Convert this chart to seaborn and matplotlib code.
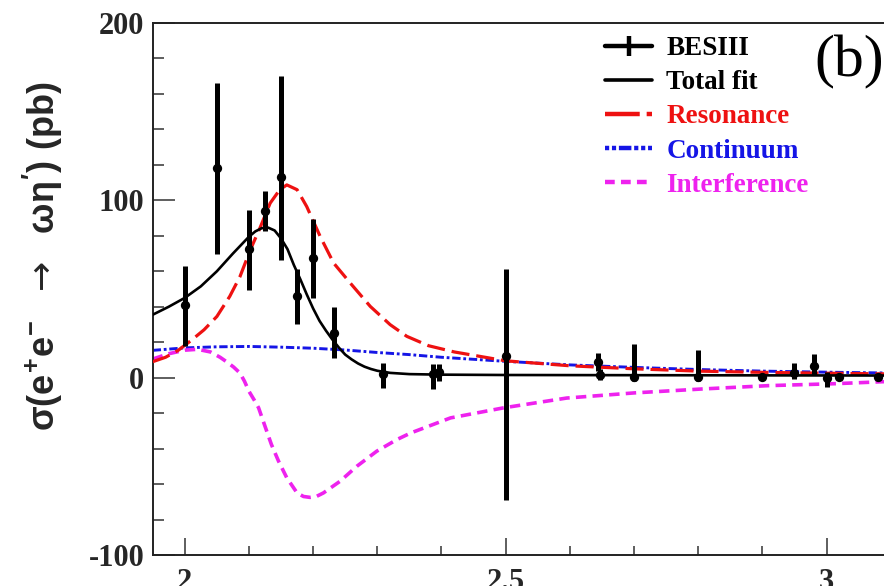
import numpy as np
import pandas as pd
import seaborn as sns
import matplotlib
matplotlib.use("Agg")
import matplotlib.pyplot as plt
from matplotlib.lines import Line2D
from matplotlib.ticker import MultipleLocator, FixedLocator

# ---------------- data ----------------
energy = [2.0000, 2.0500, 2.1000, 2.1250, 2.1500, 2.1750, 2.2000, 2.2324,
          2.3094, 2.3864, 2.3960, 2.5000, 2.6444, 2.6464, 2.7000, 2.8000,
          2.9000, 2.9500, 2.9810, 3.0000, 3.0200, 3.0800]
xsec = [41.0, 118.0, 72.5, 94.0, 113.0, 46.0, 67.5, 25.0,
        2.0, 2.0, 3.0, 12.0, 9.0, 1.7, 0.3, 0.3,
        0.5, 2.6, 6.6, 0.0, 0.4, 0.2]
err_up = [22.0, 48.0, 22.0, 11.5, 57.0, 15.0, 22.0, 15.0,
          6.0, 5.5, 4.5, 49.0, 5.0, 3.0, 18.5, 15.5,
          1.5, 5.5, 6.5, 3.0, 1.5, 1.5]
err_dn = [23.0, 48.0, 23.0, 11.5, 46.5, 15.5, 22.5, 14.0,
          8.0, 8.5, 5.0, 81.0, 5.0, 3.0, 2.0, 2.0,
          1.5, 3.5, 5.0, 5.0, 1.5, 1.5]

fit_e = [1.95, 1.975, 2.0, 2.025, 2.05, 2.075, 2.1, 2.11, 2.12, 2.13, 2.14,
         2.15, 2.16, 2.17, 2.18, 2.19, 2.20, 2.21, 2.22, 2.23, 2.24, 2.25,
         2.26, 2.27, 2.28, 2.29, 2.30, 2.32, 2.35, 2.40, 2.50, 2.70, 2.90, 3.10]
fit_total = [35.5, 40.0, 45.0, 51.5, 60.0, 70.0, 79.5, 82.5, 84.3, 84.6, 83.0,
             78.5, 72.5, 63.5, 55.5, 47.0, 39.0, 32.0, 26.5, 21.5, 17.0, 13.0,
             10.3, 8.0, 6.2, 4.9, 3.9, 2.7, 2.0, 1.7, 1.5, 1.4, 1.3, 1.2]

res_e = [1.95, 1.97, 1.99, 2.01, 2.03, 2.05, 2.07, 2.086, 2.102, 2.117, 2.133,
         2.148, 2.159, 2.175, 2.19, 2.211, 2.232, 2.258, 2.289, 2.32, 2.346,
         2.38, 2.42, 2.46, 2.50, 2.60, 2.70, 2.80, 2.90, 3.00, 3.10]
res_val = [9.0, 11.5, 15.5, 21.0, 27.0, 34.5, 45.8, 57.0, 72.0, 84.3, 98.4,
           106.0, 108.7, 106.0, 96.5, 79.6, 64.6, 53.3, 40.2, 29.9, 23.3,
           18.0, 14.5, 12.0, 9.5, 6.7, 5.0, 3.7, 3.0, 2.5, 2.1]

cont_e = [1.95, 2.0, 2.05, 2.1, 2.15, 2.2, 2.25, 2.3, 2.35, 2.4, 2.5, 2.6,
          2.7, 2.8, 2.9, 3.0, 3.1]
cont_val = [15.4, 16.8, 17.4, 17.6, 17.2, 16.6, 15.6, 14.2, 13.0, 11.5, 9.2,
            7.2, 5.8, 4.6, 3.7, 3.1, 2.6]

intf_e = [1.95, 1.975, 2.0, 2.02, 2.04, 2.055, 2.065, 2.076, 2.086, 2.093,
          2.1, 2.108, 2.115, 2.125, 2.135, 2.146, 2.159, 2.175, 2.185, 2.195,
          2.205, 2.216, 2.242, 2.268, 2.299, 2.33, 2.352, 2.414, 2.497, 2.595,
          2.7, 2.805, 2.909, 3.013, 3.1]
intf_val = [10.5, 13.5, 15.5, 16.0, 14.5, 11.5, 9.0, 6.0, 2.6, -2.0,
            -7.7, -12.5, -17.0, -27.4, -37.7, -47.0, -56.5, -65.0, -67.0, -67.5,
            -67.0, -65.0, -58.4, -50.0, -41.5, -35.0, -31.2, -22.7, -17.0, -11.5,
            -8.6, -6.4, -4.5, -3.4, -2.1]

legend_labels = ["BESIII", "Total fit", "Resonance", "Continuum", "Interference"]
x_ticks = [2.0, 2.5, 3.0]
x_tick_labels = ["2", "2.5", "3"]
y_ticks = [-100, 0, 100, 200]
y_tick_labels = ["-100", "0", "100", "200"]

# ---------------- style ----------------
sns.set_style("ticks")
plt.rcParams.update({
    "lines.scale_dashes": False,
    "mathtext.fontset": "custom",
    "mathtext.rm": "Liberation Sans:bold",
    "mathtext.it": "Liberation Sans:bold",
    "mathtext.bf": "Liberation Sans:bold",
    "mathtext.sf": "DejaVu Sans",
    "axes.linewidth": 1.4,
})

RED = "#ee1111"
BLUE = "#1515e6"
MAGENTA = "#ee22ee"

W, H = 884, 586
fig = plt.figure(figsize=(W / 100, H / 100), dpi=100)
ax_left, ax_right, ax_top, ax_bottom = 152.7, 890.7, 23.0, 555.0
ax = fig.add_axes([ax_left / W, 1 - ax_bottom / H,
                   (ax_right - ax_left) / W, (ax_bottom - ax_top) / H])

# ---------------- curves ----------------
sns.lineplot(x=fit_e, y=fit_total, ax=ax, color="black", lw=1.9, zorder=4)
sns.lineplot(x=res_e, y=res_val, ax=ax, color=RED, lw=2.3,
             linestyle=(0, (13, 5)), zorder=3)
sns.lineplot(x=cont_e, y=cont_val, ax=ax, color=BLUE, lw=2.1,
             linestyle=(0, (6, 2, 2, 2)), zorder=2)
sns.lineplot(x=intf_e, y=intf_val, ax=ax, color=MAGENTA, lw=2.6,
             linestyle=(0, (7.5, 4.5)), zorder=2)

# ---------------- data points ----------------
ax.errorbar(energy, xsec, yerr=[err_dn, err_up], fmt="none", ecolor="black",
            elinewidth=3.6, capsize=0, zorder=5)
sns.scatterplot(x=energy, y=xsec, ax=ax, color="black", s=45,
                edgecolor="black", linewidth=0, zorder=6)

# ---------------- axes ----------------
ax.set_xlim(1.95, 3.1)
ax.set_ylim(-100, 200)
ax.xaxis.set_major_locator(FixedLocator(x_ticks))
ax.xaxis.set_minor_locator(MultipleLocator(0.1))
ax.yaxis.set_major_locator(FixedLocator(y_ticks))
ax.yaxis.set_minor_locator(MultipleLocator(20))
ax.set_xticklabels(x_tick_labels)
ax.set_yticklabels(y_tick_labels)

ax.tick_params(axis="both", which="both", direction="in", top=False,
               right=False, width=1.1, color="#333333")
ax.tick_params(axis="x", which="major", length=12, pad=9)
ax.tick_params(axis="x", which="minor", length=6.5)
ax.tick_params(axis="y", which="major", length=15.5, pad=6)
ax.tick_params(axis="y", which="minor", length=7.7)
for lab in ax.get_xticklabels() + ax.get_yticklabels():
    lab.set_fontfamily("Liberation Serif")
    lab.set_fontweight("bold")
    lab.set_fontsize(22)

for sp in ax.spines.values():
    sp.set_color("#222222")
    sp.set_linewidth(1.4)

ax.set_xlabel("")
ax.set_ylabel(r"$\sigma(e^{+}e^{-}\ \ \mathsf{\rightarrow}\ \ \omega\eta')\ (pb)$",
              fontsize=26)
ax.yaxis.set_label_coords((65 - ax_left) / (ax_right - ax_left), 0.562)

# ---------------- legend ----------------
handles = [
    Line2D([], [], color="black", lw=3.2, marker="|", markersize=15,
           markeredgewidth=3.2),
    Line2D([], [], color="black", lw=2.6),
    Line2D([], [], color=RED, lw=3.2, linestyle=(0, (25, 5, 4.3, 5))),
    Line2D([], [], color=BLUE, lw=3.2, linestyle=(0, (3, 2, 3, 2, 9, 2))),
    Line2D([], [], color=MAGENTA, lw=3.2, linestyle=(0, (7, 4.5))),
]
leg = ax.legend(handles, legend_labels, loc="upper left",
                bbox_to_anchor=(605 / W, 1 - 36 / H),
                bbox_transform=fig.transFigure, frameon=False,
                handlelength=1.74, handletextpad=0.52, labelspacing=0.34,
                borderpad=0, borderaxespad=0, numpoints=1,
                labelcolor=["black", "black", RED, BLUE, MAGENTA],
                prop={"family": "Liberation Serif", "weight": "bold",
                      "size": 19.5})

fig.text(814 / W, 1 - 62 / H, "(b)", fontfamily="Liberation Serif",
         fontsize=43, ha="left", va="center", color="black")

fig.savefig("out.png", dpi=100)
